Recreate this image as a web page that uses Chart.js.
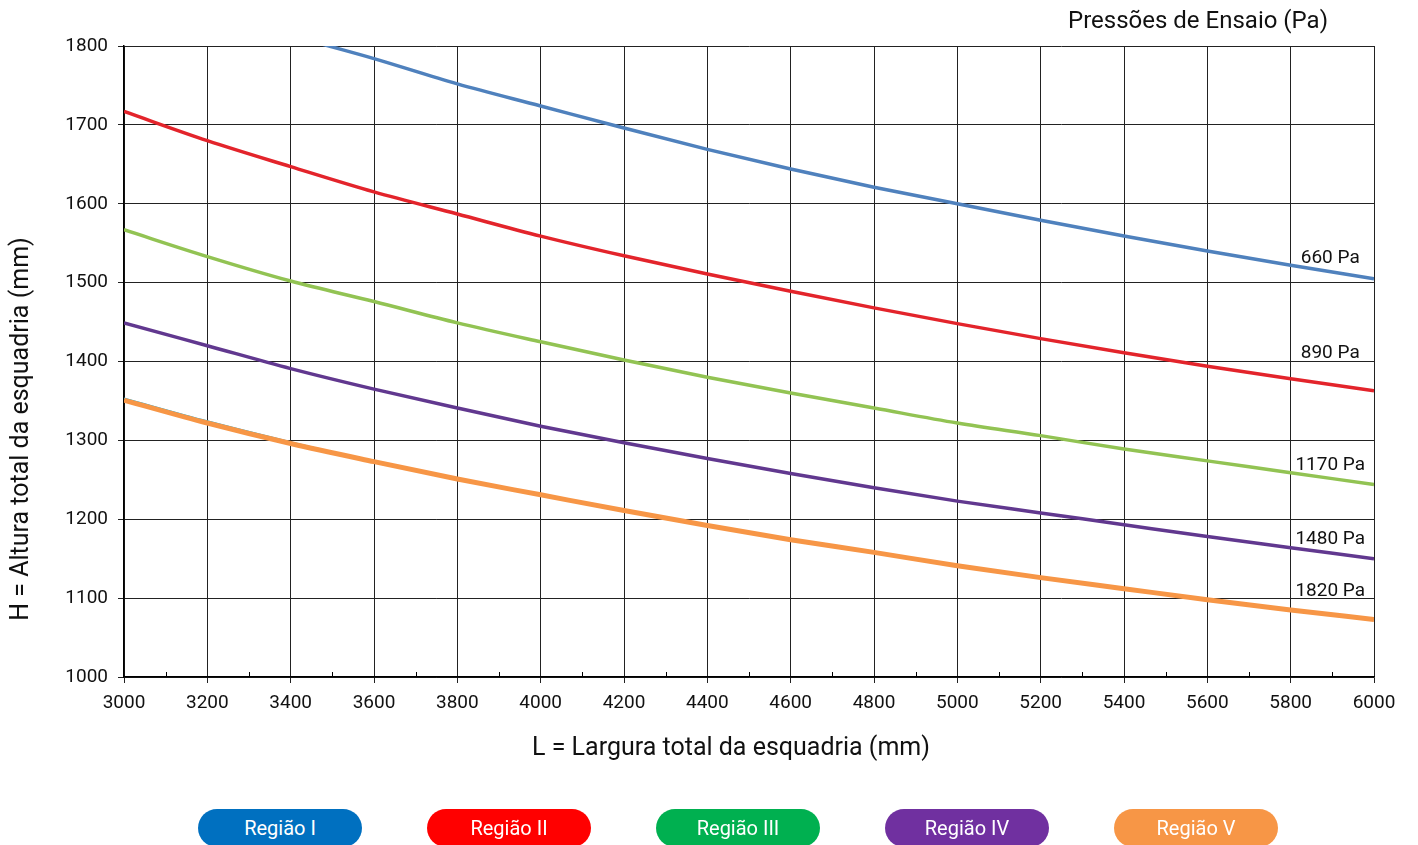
<!DOCTYPE html>
<html>
<head>
<meta charset="utf-8">
<script src="https://cdn.jsdelivr.net/npm/chart.js@4"></script>
<style>
  html, body { margin: 0; padding: 0; background: #fff; }
  #wrap { position: relative; width: 1418px; height: 845px; overflow: hidden; }
  #c { position: absolute; left: 0; top: 0; }
  .pill { position: absolute; top: 809px; width: 164px; height: 38px; border-radius: 19px;
          color: #fff; font-family: "Liberation Sans Narrow", "Roboto", sans-serif; font-size: 20px;
          display: flex; align-items: center; justify-content: center; }
</style>
</head>
<body>
<div id="wrap">
  <canvas id="c" width="1418" height="845"></canvas>
  <div id="legend"></div>
</div>
<script>
// ---- data ----
const widthL = [3000, 3200, 3400, 3600, 3800, 4000, 4200, 4400, 4600, 4800, 5000, 5200, 5400, 5600, 5800, 6000];
const h660  = [1888, 1850, 1814, 1784, 1752, 1724, 1696, 1669, 1644, 1621, 1600, 1579, 1559, 1540, 1522, 1505];
const h890  = [1717, 1680, 1647, 1615, 1587, 1559, 1534, 1511, 1489, 1468, 1448, 1429, 1411, 1394, 1378, 1363];
const h1170 = [1567, 1533, 1502, 1476, 1449, 1425, 1402, 1380, 1360, 1341, 1322, 1306, 1289, 1274, 1259, 1244];
const h1480 = [1449, 1420, 1391, 1365, 1341, 1318, 1297, 1277, 1258, 1240, 1223, 1208, 1193, 1178, 1164, 1150];
const h1820 = [1351, 1322, 1296, 1273, 1251, 1231, 1211, 1192, 1174, 1158, 1141, 1126, 1112, 1098, 1085, 1073];
const h1820b = [1353.5, 1324.5, 1298, 1273, 1251, 1231, 1211, 1192, 1174, 1158, 1141, 1126, 1112, 1098, 1085, 1073];
const pressureLabels = ["660 Pa", "890 Pa", "1170 Pa", "1480 Pa", "1820 Pa"];
const regionNames = ["Região I", "Região II", "Região III", "Região IV", "Região V"];
const yTicks = [1000, 1100, 1200, 1300, 1400, 1500, 1600, 1700, 1800];
const xTicks = [3000, 3200, 3400, 3600, 3800, 4000, 4200, 4400, 4600, 4800, 5000, 5200, 5400, 5600, 5800, 6000];
const headerText = "Pressões de Ensaio (Pa)";
const xTitle = "L = Largura total da esquadria (mm)";
const yTitle = "H = Altura total da esquadria (mm)";

// ---- styles ----
const lineColors = ["#4F81BD", "#E3242B", "#92C353", "#61388F", "#F79646"];
const pillColors = ["#0070C0", "#FF0000", "#00B050", "#7030A0", "#F79646"];
const labelOffsets = [7, 25, 7, 8, 18]; // px above curve at 5800
const FONT = "Roboto, 'Noto Sans', sans-serif";

const pts = (xs, ys) => xs.map((x, i) => ({x: x, y: ys[i]}));
const seriesY = [h660, h890, h1170, h1480, h1820];

const datasets = [];
// thin light-blue line beneath orange
datasets.push({ data: pts(widthL, h1820b), borderColor: "#00B0F0", borderWidth: 1.5, pointRadius: 0,
  cubicInterpolationMode: "monotone", order: 10 });
seriesY.forEach((ys, i) => {
  datasets.push({ label: pressureLabels[i], data: pts(widthL, ys), borderColor: lineColors[i],
    borderWidth: i === 4 ? 5 : 3.5, pointRadius: 0, cubicInterpolationMode: "monotone", order: 5 - i });
});

const decor = {
  id: "decor",
  afterDraw(chart) {
    const ctx = chart.ctx, xs = chart.scales.x, ys = chart.scales.y, area = chart.chartArea;
    ctx.save();
    // minor ticks on x axis
    ctx.strokeStyle = "#000"; ctx.lineWidth = 1;
    for (let v = xTicks[0] + 100; v < xTicks[xTicks.length - 1]; v += 200) {
      const px = Math.round(xs.getPixelForValue(v)) + 0.5;
      ctx.beginPath(); ctx.moveTo(px, area.bottom); ctx.lineTo(px, area.bottom - 5); ctx.stroke();
    }
    ctx.fillStyle = "#111";
    // header
    ctx.font = "24px " + FONT; ctx.textAlign = "right"; ctx.textBaseline = "middle";
    ctx.fillText(headerText, 1328, 22);
    // x title
    ctx.font = "25px " + FONT; ctx.textAlign = "center"; ctx.textBaseline = "middle";
    ctx.fillText(xTitle, 731, 749);
    // y title
    ctx.save();
    ctx.translate(22, 429); ctx.rotate(-Math.PI / 2);
    ctx.font = "25px " + FONT; ctx.textAlign = "center"; ctx.textBaseline = "middle";
    ctx.fillText(yTitle, 0, 0);
    ctx.restore();
    // curve labels
    ctx.font = "19px " + FONT; ctx.textAlign = "center"; ctx.textBaseline = "bottom";
    seriesY.forEach((ysr, i) => {
      const idx = widthL.indexOf(5800);
      const py = ys.getPixelForValue(ysr[idx]) - labelOffsets[i] + 9;
      ctx.fillText(pressureLabels[i], xs.getPixelForValue(5895), py);
    });
    ctx.restore();
  }
};

new Chart(document.getElementById("c"), {
  type: "line",
  data: { datasets: datasets },
  plugins: [decor],
  options: {
    responsive: false, animation: false,
    layout: { padding: { left: 0, right: 44, top: 46, bottom: 68 } },
    plugins: { legend: { display: false }, tooltip: { enabled: false } },
    scales: {
      x: {
        type: "linear", min: 3000, max: 6000,
        afterBuildTicks: (s) => { s.ticks = xTicks.map(v => ({value: v})); },
        afterFit: (s) => { s.height = 100; },
        ticks: { font: { family: FONT, size: 19 }, color: "#111", padding: 9, maxRotation: 0, autoSkip: false,
                 callback: (v) => String(v) },
        grid: { color: "#222", lineWidth: 1, tickLength: 6 },
        border: { color: "#000", width: 1.5 },
        title: { display: false }
      },
      y: {
        type: "linear", min: 1000, max: 1800,
        afterBuildTicks: (s) => { s.ticks = yTicks.map(v => ({value: v})); },
        afterFit: (s) => { s.width = 124; },
        ticks: { font: { family: FONT, size: 19 }, color: "#111", padding: 10, callback: (v) => String(v) },
        grid: { color: "#222", lineWidth: 1, tickLength: 6 },
        border: { color: "#000", width: 1.5 },
        title: { display: false }
      }
    }
  }
});

// legend pills
const lg = document.getElementById("legend");
const pillLeft = [198, 427, 656, 885, 1114];
regionNames.forEach((n, i) => {
  const d = document.createElement("div");
  d.className = "pill"; d.style.left = pillLeft[i] + "px"; d.style.background = pillColors[i];
  d.textContent = n; lg.appendChild(d);
});
</script>
</body>
</html>
